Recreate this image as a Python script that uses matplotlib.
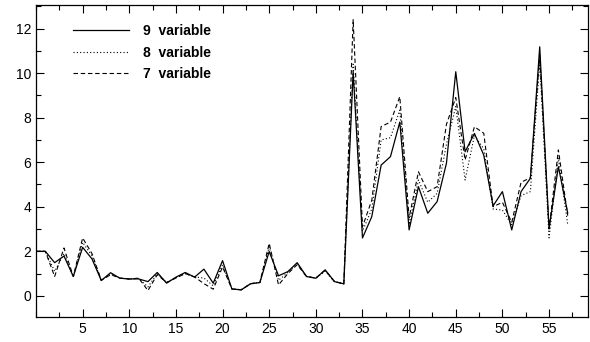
import numpy as np
import matplotlib
matplotlib.use("Agg")
import matplotlib.pyplot as plt
from matplotlib.ticker import MultipleLocator

# --------------------------
# Data
# --------------------------
x = np.arange(0, 58)

var9 = [2.0, 2.0, 1.49, 1.79, 0.87, 2.18, 1.66, 0.69, 1.04, 0.79,
        0.76, 0.76, 0.64, 1.05, 0.57, 0.84, 1.05, 0.84, 1.20, 0.57,
        1.58, 0.31, 0.27, 0.54, 0.60, 1.99, 0.90, 1.09, 1.49, 0.87,
        0.79, 1.17, 0.64, 0.54, 10.06, 2.60, 3.56, 5.87, 6.25, 7.80,
        2.96, 4.90, 3.71, 4.23, 5.95, 10.06, 6.47, 7.29, 6.32, 4.04,
        4.68, 2.96, 4.68, 5.28, 11.18, 3.03, 5.80, 3.72]

var8 = [2.0, 2.0, 1.10, 1.90, 0.87, 2.40, 1.80, 0.70, 0.98, 0.80,
        0.76, 0.78, 0.40, 1.00, 0.60, 0.82, 1.00, 0.85, 0.80, 0.45,
        1.40, 0.31, 0.28, 0.55, 0.60, 2.20, 0.70, 1.05, 1.45, 0.87,
        0.80, 1.10, 0.64, 0.54, 10.40, 2.90, 3.90, 7.00, 7.10, 8.34,
        3.20, 5.20, 4.20, 4.60, 6.80, 8.50, 5.20, 7.20, 6.60, 3.90,
        3.85, 3.20, 4.50, 4.68, 10.50, 2.60, 6.20, 3.20]

var7 = [2.0, 2.0, 0.87, 2.15, 0.87, 2.60, 1.90, 0.70, 0.95, 0.80,
        0.75, 0.80, 0.24, 0.95, 0.60, 0.80, 1.00, 0.85, 0.55, 0.30,
        1.30, 0.31, 0.27, 0.55, 0.60, 2.36, 0.49, 1.00, 1.40, 0.87,
        0.80, 1.15, 0.64, 0.54, 12.40, 3.10, 4.30, 7.60, 7.80, 8.94,
        3.50, 5.57, 4.68, 4.90, 7.70, 8.90, 6.10, 7.59, 7.30, 4.00,
        4.20, 3.30, 5.10, 5.30, 10.80, 3.00, 6.55, 3.60]

labels = ['9  variable', '8  variable', '7  variable']

# --------------------------
# Plot
# --------------------------
plt.rcParams['font.family'] = ['Liberation Sans', 'DejaVu Sans']

fig = plt.figure(figsize=(5.9, 3.42), dpi=100)
ax = fig.add_axes([0.061, 0.073, 0.936, 0.912])

ax.plot(x, var9, color='black', linestyle='-', linewidth=0.9, label=labels[0])
ax.plot(x, var8, color='black', linestyle=(0, (1, 2)), linewidth=0.8, label=labels[1])
ax.plot(x, var7, color='black', linestyle=(0, (4, 2.5)), linewidth=0.8, label=labels[2])

ax.set_xlim(0, 59.2)
ax.set_ylim(-0.95, 13.05)
ax.xaxis.set_major_locator(MultipleLocator(5))
ax.xaxis.set_minor_locator(MultipleLocator(2.5))
ax.yaxis.set_major_locator(MultipleLocator(2))
ax.yaxis.set_minor_locator(MultipleLocator(1))
ax.set_xticks([5, 10, 15, 20, 25, 30, 35, 40, 45, 50, 55])
ax.tick_params(which='both', direction='in', top=True, right=True,
               labelsize=10, width=0.8)
ax.tick_params(which='major', length=6)
ax.tick_params(which='minor', length=3.5)
for sp in ax.spines.values():
    sp.set_linewidth(0.9)

leg = ax.legend(loc='upper left', frameon=False, handlelength=4.0,
                handletextpad=1.0, labelspacing=0.55,
                bbox_to_anchor=(0.045, 0.98),
                prop={'weight': 'bold', 'size': 10})

fig.savefig('out.png', dpi=100)
